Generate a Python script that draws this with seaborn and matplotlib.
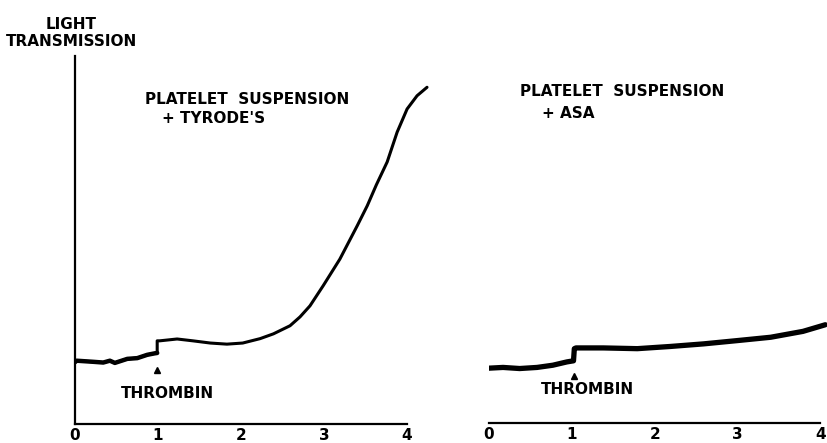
import numpy as np
import pandas as pd
import matplotlib
matplotlib.use("Agg")
import matplotlib.pyplot as plt
import seaborn as sns

# time (min) and light transmission (arbitrary units, 0-100 of axis height)
tyrode_t = [0.0, 0.02, 0.22, 0.34, 0.42, 0.48, 0.63, 0.75, 0.87, 0.96, 0.99,
            0.99, 1.02, 1.23, 1.42, 1.63, 1.83, 2.02, 2.23, 2.39, 2.59, 2.71,
            2.83, 2.99, 3.19, 3.40, 3.52, 3.63, 3.76, 3.88, 4.00, 4.12, 4.24]
tyrode_y = [16.8, 17.2, 16.9, 16.7, 17.2, 16.6, 17.7, 17.9, 18.8, 19.2, 19.3,
            22.6, 22.6, 23.1, 22.6, 22.0, 21.7, 22.0, 23.2, 24.5, 26.7, 29.1,
            32.1, 37.6, 44.8, 53.9, 59.3, 65.0, 71.2, 79.3, 85.6, 89.2, 91.5]

asa_t = [0.0, 0.17, 0.37, 0.58, 0.77, 0.94, 1.02, 1.03, 1.05, 1.38, 1.79,
         2.19, 2.59, 3.00, 3.40, 3.79, 4.06]
asa_y = [14.9, 15.1, 14.8, 15.1, 15.7, 16.6, 16.9, 20.2, 20.4, 20.4, 20.2,
         20.8, 21.5, 22.4, 23.3, 24.9, 26.7]

ticks = [0, 1, 2, 3, 4]
tyrode = pd.DataFrame({"t": tyrode_t, "y": tyrode_y})
asa = pd.DataFrame({"t": asa_t, "y": asa_y})

sns.set_style("white")
plt.rcParams["font.family"] = ["DejaVu Sans"]
plt.rcParams["font.weight"] = "bold"
plt.rcParams["text.color"] = "black"

W, H = 827, 443
fig = plt.figure(figsize=(W / 100, H / 100), dpi=100)
ax1 = fig.add_axes([75 / W, 19 / H, 357 / W, 368 / H])
ax2 = fig.add_axes([489 / W, 20 / H, 338 / W, 368 / H])

# left panel
pre = tyrode[tyrode.t <= 0.99].iloc[:-1]
sns.lineplot(data=tyrode, x="t", y="y", ax=ax1, color="black", lw=2.2,
             estimator=None, sort=False)
sns.lineplot(data=pre, x="t", y="y", ax=ax1, color="black", lw=3.2,
             estimator=None, sort=False)
ax1.set_xlim(0, 4.3)
ax1.set_ylim(0, 100)
ax1.spines["bottom"].set_bounds(0, 4)
for s in ["top", "right"]:
    ax1.spines[s].set_visible(False)
ax1.set_yticks([])

# right panel
sns.lineplot(data=asa, x="t", y="y", ax=ax2, color="black", lw=3.8,
             estimator=None, sort=False)
ax2.set_xlim(0, 4.08)
ax2.set_ylim(0, 100)
ax2.spines["bottom"].set_bounds(0, 4)
for s in ["top", "right", "left"]:
    ax2.spines[s].set_visible(False)
ax2.set_yticks([])

for ax in (ax1, ax2):
    ax.set_xticks(ticks)
    ax.set_xticklabels([str(t) for t in ticks], fontsize=11, fontweight="bold",
                       color="black")
    ax.tick_params(axis="x", direction="inout", length=6, width=1.5, pad=0,
                   colors="black")
    for s in ax.spines.values():
        s.set_linewidth(1.6)
        s.set_color("black")
    ax.set_xlabel("")
    ax.set_ylabel("")
    ax.patch.set_alpha(0)

# thrombin marks
ax1.plot([0.99], [14.7], marker="^", color="black", ms=4)
ax1.text(1.11, 8.4, "THROMBIN", ha="center", va="center", fontsize=11,
         fontweight="bold")
ax2.plot([1.03], [12.8], marker="^", color="black", ms=4)
ax2.text(1.19, 9.0, "THROMBIN", ha="center", va="center", fontsize=11,
         fontweight="bold")

ax1.text(0.84, 88.3, "PLATELET  SUSPENSION", ha="left", va="center",
         fontsize=11, fontweight="bold")
ax1.text(1.05, 82.9, "+ TYRODE'S", ha="left", va="center", fontsize=11,
         fontweight="bold")
ax2.text(0.37, 90.2, "PLATELET  SUSPENSION", ha="left", va="center",
         fontsize=11, fontweight="bold")
ax2.text(0.64, 84.2, "+ ASA", ha="left", va="center", fontsize=11,
         fontweight="bold")

fig.text(71 / W, 1 - 33 / H, "LIGHT\nTRANSMISSION", ha="center", va="center",
         fontsize=11, fontweight="bold", linespacing=1.1)

fig.savefig("out.png", dpi=100)
